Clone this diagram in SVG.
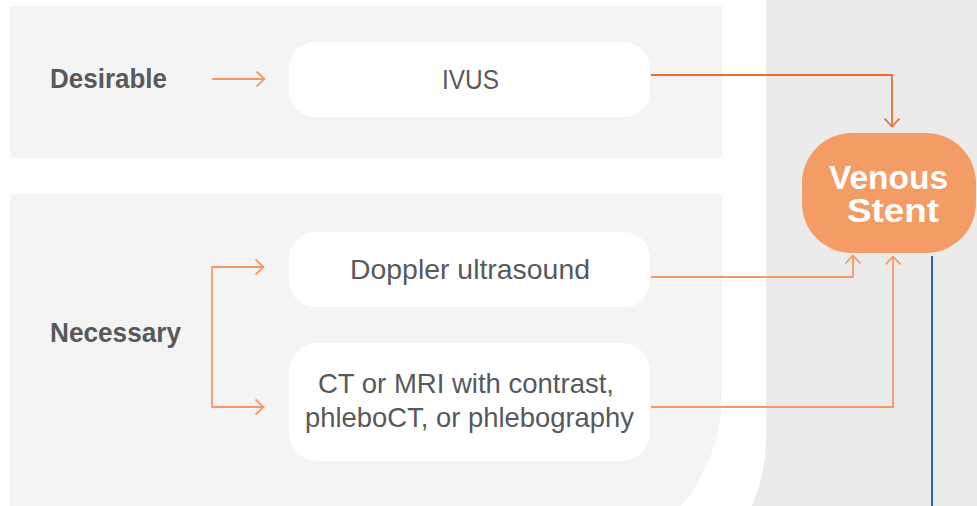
<svg xmlns="http://www.w3.org/2000/svg" width="977" height="506" viewBox="0 0 977 506">
  <defs>
    <style>
      .lbl { font-family: "Liberation Sans", Arial, sans-serif; font-weight: bold; font-size: 27px; fill: #58595b; }
      .txt { font-family: "Liberation Sans", Arial, sans-serif; font-size: 28px; fill: #58595b; text-anchor: middle; }
      .st { font-family: "Liberation Sans", Arial, sans-serif; font-weight: bold; font-size: 34px; fill: #ffffff; text-anchor: middle; }
      .box { fill: #ffffff; }
      .c1 { fill: none; stroke: #f39a66; stroke-width: 1.8; }
      .c2 { fill: none; stroke: #ee6f2d; stroke-width: 1.8; }
    </style>
    <marker id="ahL" markerUnits="userSpaceOnUse" viewBox="0 0 11 18" markerWidth="11" markerHeight="18" refX="10" refY="9" orient="auto">
      <path d="M1.5,1.5 L9.5,9 L1.5,16.5" fill="none" stroke="#f39a66" stroke-width="1.8"/>
    </marker>
    <marker id="ahD" markerUnits="userSpaceOnUse" viewBox="0 0 11 18" markerWidth="11" markerHeight="18" refX="10" refY="9" orient="auto">
      <path d="M1.5,1.5 L9.5,9 L1.5,16.5" fill="none" stroke="#ee6f2d" stroke-width="1.8"/>
    </marker>
  </defs>

  <!-- background -->
  <rect x="0" y="0" width="977" height="506" fill="#ebebeb"/>
  <path d="M0,0 H766 V438 A170,170 0 0 1 596,608 H0 Z" fill="#ffffff"/>
  <rect x="10" y="6" width="712" height="152" fill="#f4f4f4"/>
  <path d="M10,194 H722 V395 A170,170 0 0 1 552,565 H10 Z" fill="#f4f4f4"/>

  <g id="label-desirable">
    <text class="lbl" x="50" y="88" textLength="117" lengthAdjust="spacingAndGlyphs">Desirable</text>
  </g>
  <g id="label-necessary">
    <text class="lbl" x="50" y="342" textLength="131" lengthAdjust="spacingAndGlyphs">Necessary</text>
  </g>

  <g id="node-ivus">
    <rect class="box" x="289" y="42" width="361" height="75" rx="26"/>
    <text class="txt" x="470.5" y="89" textLength="57" lengthAdjust="spacingAndGlyphs">IVUS</text>
  </g>
  <g id="node-doppler">
    <rect class="box" x="289" y="232" width="361" height="75" rx="26"/>
    <text class="txt" x="470" y="279" textLength="240" lengthAdjust="spacingAndGlyphs">Doppler ultrasound</text>
  </g>
  <g id="node-ct">
    <rect class="box" x="289" y="343" width="361" height="118" rx="28"/>
    <text class="txt" x="466" y="393" textLength="296" lengthAdjust="spacingAndGlyphs">CT or MRI with contrast,</text>
    <text class="txt" x="469.5" y="427" textLength="329" lengthAdjust="spacingAndGlyphs">phleboCT, or phlebography</text>
  </g>
  <g id="node-stent">
    <rect x="802" y="133" width="174" height="120" rx="50" fill="#f39c66"/>
    <text class="st" x="888.5" y="189" textLength="119" lengthAdjust="spacingAndGlyphs">Venous</text>
    <text class="st" x="893" y="222" textLength="92" lengthAdjust="spacingAndGlyphs">Stent</text>
  </g>

  <g id="connectors">
    <path class="c1" d="M212,79 H265" marker-end="url(#ahL)"/>
    <path class="c2" d="M651,75 H892 V127" marker-end="url(#ahD)"/>
    <path class="c1" d="M212,337 V267 H264" marker-end="url(#ahL)"/>
    <path class="c1" d="M212,337 V407 H264" marker-end="url(#ahL)"/>
    <path class="c1" d="M651,277 H853 V255" marker-end="url(#ahL)"/>
    <path class="c1" d="M651,407 H893 V256" marker-end="url(#ahL)"/>
    <path d="M932,256 V506" fill="none" stroke="#2a64a8" stroke-width="2"/>
  </g>
</svg>
